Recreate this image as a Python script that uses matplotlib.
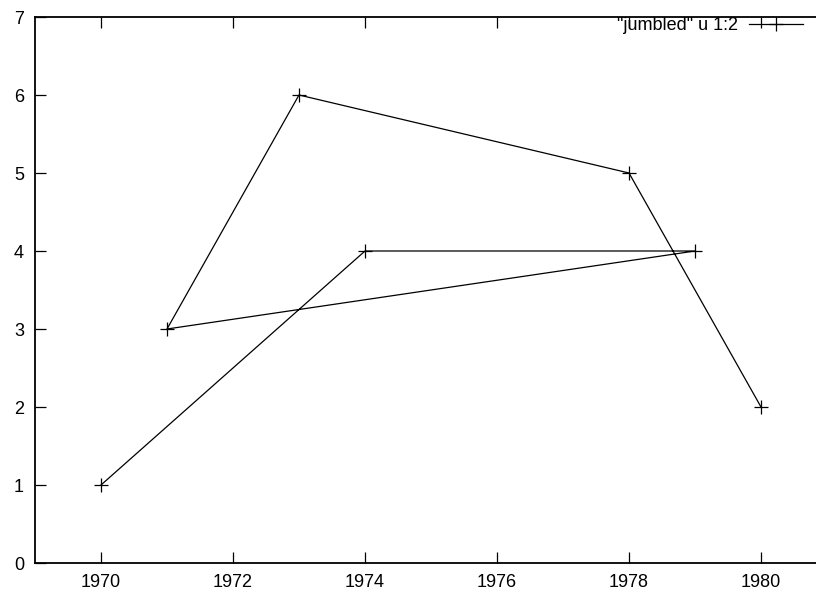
import matplotlib.pyplot as plt
import numpy as np

plt.rcParams['font.family'] = ['Liberation Sans', 'DejaVu Sans']

# data in file order (gnuplot "jumbled" file)
years = [1970, 1974, 1979, 1971, 1973, 1978, 1980]
values = [1, 4, 4, 3, 6, 5, 2]
x_ticks = [1970, 1972, 1974, 1976, 1978, 1980]
y_ticks = [0, 1, 2, 3, 4, 5, 6, 7]

W, H = 816, 591
fig = plt.figure(figsize=(W / 100, H / 100), dpi=100)
# plot box runs past the right edge of the picture, like the reference
ax = fig.add_axes([35 / W, 1 - 563 / H, (827 - 35) / W, (563 - 17) / H])

ax.plot(years, values, color='black', lw=0.9, marker='+', ms=10, mew=0.9,
        label='"jumbled" u 1:2')
ax.set_xlim(1969, 1981)
ax.set_ylim(0, 7)
ax.set_xticks(x_ticks)
ax.set_yticks(y_ticks)
ax.tick_params(direction='in', length=8, width=0.9, top=True, right=True,
               labelsize=13, colors='black')
ax.tick_params(axis='y', pad=8)
ax.tick_params(axis='x', pad=8)
for s in ax.spines.values():
    s.set_linewidth(1.3)

ax.legend(loc='center right', bbox_to_anchor=(803 / W, 1 - 26 / H),
          bbox_transform=fig.transFigure, frameon=False, markerfirst=False,
          numpoints=1, handlelength=3.0, handletextpad=0.6, borderpad=0,
          borderaxespad=0, fontsize=13)

fig.savefig('out.png', dpi=100)
